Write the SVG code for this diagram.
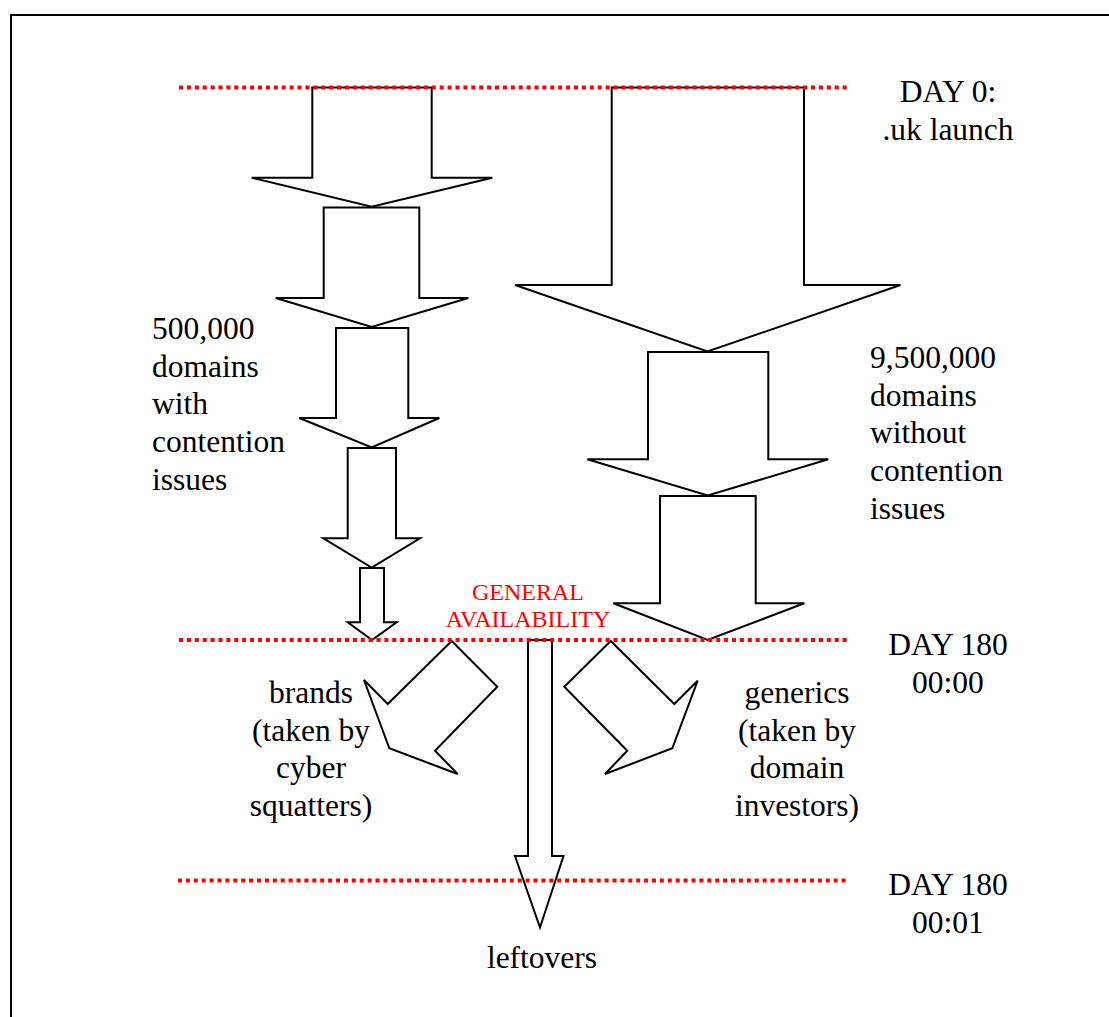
<svg xmlns="http://www.w3.org/2000/svg" width="1109" height="1017" viewBox="0 0 1109 1017">
  <style>
    .frame { fill: none; stroke: #000; stroke-width: 2; }
    .arrow { fill: #fff; stroke: #000; stroke-width: 2; stroke-linejoin: miter; }
    .timeline { stroke: #ff0000; stroke-width: 4; stroke-dasharray: 4 3.9; fill: none; }
    .lbl { font-family: "Liberation Serif", "Times New Roman", serif; font-size: 31.5px; fill: #000; }
    .ga { font-family: "Liberation Serif", "Times New Roman", serif; font-size: 24px; fill: #ff0000; text-anchor: middle; }
    .mid { text-anchor: middle; }
  </style>

  <rect class="frame" x="11" y="15" width="1200" height="1100"/>

  <!-- flow arrows -->
  <g id="connectors">
    <!-- left column: contested domains -->
    <polygon id="left-1" class="arrow" points="312.3,87.5 431.7,87.5 431.7,177.7 492.3,177.7 371.7,206.7 251.7,177.7 312.3,177.7"/>
    <polygon id="left-2" class="arrow" points="323.7,207.5 419.3,207.5 419.3,298 468.3,298 371.7,327 275.7,298 323.7,298"/>
    <polygon id="left-3" class="arrow" points="336,328 408.3,328 408.3,418 439.3,418 371.7,447.5 299.3,418 336,418"/>
    <polygon id="left-4" class="arrow" points="347.7,448 396,448 396,538.3 420,538.3 371.7,567.5 323.3,538.3 347.7,538.3"/>
    <polygon id="left-5" class="arrow" points="360,568 384,568 384,622.3 396.7,622.3 372,640 347.7,622.3 360,622.3"/>

    <!-- right column: uncontested domains -->
    <polygon id="right-1" class="arrow" points="611.7,87.5 804,87.5 804,285 900.5,285 707.5,351.5 515,285 611.7,285"/>
    <polygon id="right-2" class="arrow" points="648,352 768.3,352 768.3,459.3 828.3,459.3 707.7,495.5 587.3,459.3 648,459.3"/>
    <polygon id="right-3" class="arrow" points="660,496 755.7,496 755.7,603.3 804.3,603.3 707.7,640 613.3,603.3 660,603.3"/>

    <!-- general availability split -->
    <polygon id="to-brands" class="arrow" points="451.7,641 497.3,686.7 435,750.7 457.7,774 389.3,748.3 364,680 387.7,704"/>
    <polygon id="to-generics" class="arrow" points="610.7,641 564.3,686.7 627.3,750.7 605,774 672.3,748.3 697.7,680.7 674.3,704"/>
    <polygon id="to-leftovers" class="arrow" points="528,640 552,640 552,856 563.5,856 540,927.5 515,856 528,856"/>
  </g>

  <!-- time markers -->
  <g id="timelines">
    <line class="timeline" x1="179" y1="87.5" x2="848" y2="87.5"/>
    <line class="timeline" x1="179" y1="640" x2="848" y2="640"/>
    <line class="timeline" x1="178" y1="880.5" x2="848" y2="880.5"/>
  </g>

  <g id="day0">
    <text class="lbl mid" x="948" y="102.3">DAY 0:</text>
    <text class="lbl mid" x="948" y="140">.uk launch</text>
  </g>

  <g id="contested">
    <text class="lbl" x="152" y="339">500,000</text>
    <text class="lbl" x="152" y="376.7">domains</text>
    <text class="lbl" x="152" y="414.4">with</text>
    <text class="lbl" x="152" y="452">contention</text>
    <text class="lbl" x="152" y="489.7">issues</text>
  </g>

  <g id="uncontested">
    <text class="lbl" x="870" y="368">9,500,000</text>
    <text class="lbl" x="870" y="405.7">domains</text>
    <text class="lbl" x="870" y="443.4">without</text>
    <text class="lbl" x="870" y="481">contention</text>
    <text class="lbl" x="870" y="518.8">issues</text>
  </g>

  <g id="general-availability">
    <text class="ga" x="528" y="600">GENERAL</text>
    <text class="ga" x="528" y="626.7">AVAILABILITY</text>
  </g>

  <g id="day180-0000">
    <text class="lbl mid" x="948" y="654.8">DAY 180</text>
    <text class="lbl mid" x="948" y="692.5">00:00</text>
  </g>

  <g id="brands">
    <text class="lbl mid" x="311" y="703">brands</text>
    <text class="lbl mid" x="311" y="740.7">(taken by</text>
    <text class="lbl mid" x="311" y="778.4">cyber</text>
    <text class="lbl mid" x="311" y="816">squatters)</text>
  </g>

  <g id="generics">
    <text class="lbl mid" x="797" y="703">generics</text>
    <text class="lbl mid" x="797" y="740.7">(taken by</text>
    <text class="lbl mid" x="797" y="778.4">domain</text>
    <text class="lbl mid" x="797" y="816">investors)</text>
  </g>

  <g id="day180-0001">
    <text class="lbl mid" x="948" y="895.3">DAY 180</text>
    <text class="lbl mid" x="948" y="933">00:01</text>
  </g>

  <g id="leftovers">
    <text class="lbl mid" x="542" y="967.7">leftovers</text>
  </g>
</svg>
